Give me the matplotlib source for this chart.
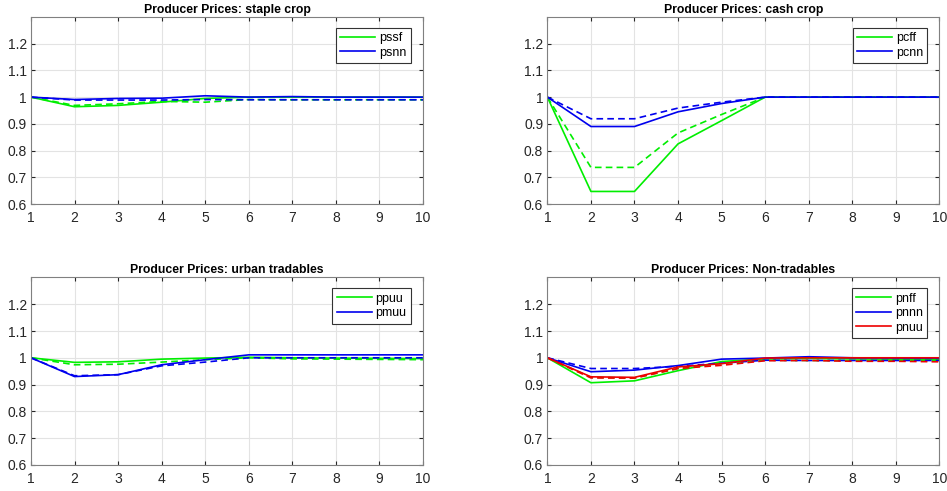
import numpy as np
import matplotlib
matplotlib.use("Agg")
import matplotlib.pyplot as plt

t = np.arange(1, 11)

# staple crop
pssf = [1.0, 0.964, 0.969, 0.981, 0.995, 1.0, 1.0, 1.0, 1.0, 1.0]
pssf_alt = [1.0, 0.969, 0.975, 0.984, 0.981, 0.991, 0.99, 0.99, 0.99, 0.99]
psnn = [1.0, 0.991, 0.995, 0.996, 1.005, 1.0, 1.002, 1.0, 1.0, 1.0]
psnn_alt = [1.0, 0.989, 0.989, 0.989, 0.991, 0.99, 0.99, 0.99, 0.99, 0.99]

# cash crop
pcff = [1.0, 0.647, 0.647, 0.825, 0.912, 1.0, 1.0, 1.0, 1.0, 1.0]
pcff_alt = [1.0, 0.737, 0.737, 0.866, 0.935, 1.0, 1.0, 1.0, 1.0, 1.0]
pcnn = [1.0, 0.89, 0.89, 0.945, 0.976, 1.0, 1.0, 1.0, 1.0, 1.0]
pcnn_alt = [1.0, 0.919, 0.919, 0.959, 0.981, 1.0, 1.0, 1.0, 1.0, 1.0]

# urban tradables
ppuu = [1.0, 0.983, 0.985, 0.995, 0.999, 1.002, 1.0, 0.999, 0.998, 0.997]
ppuu_alt = [1.0, 0.974, 0.976, 0.984, 0.993, 1.0, 0.996, 0.995, 0.994, 0.993]
pmuu = [1.0, 0.930, 0.937, 0.974, 0.993, 1.011, 1.011, 1.011, 1.011, 1.011]
pmuu_alt = [1.0, 0.933, 0.937, 0.970, 0.984, 1.0, 1.0, 1.0, 1.0, 1.0]

# non-tradables
pnff = [1.0, 0.907, 0.914, 0.952, 0.986, 0.996, 0.998, 0.996, 0.995, 0.995]
pnff_alt = [1.0, 0.927, 0.925, 0.96, 0.979, 0.991, 0.99, 0.99, 0.99, 0.99]
pnnn = [1.0, 0.948, 0.954, 0.971, 0.995, 0.999, 1.004, 1.0, 0.999, 0.999]
pnnn_alt = [1.0, 0.96, 0.96, 0.968, 0.98, 0.991, 0.99, 0.99, 0.99, 0.99]
pnuu = [1.0, 0.929, 0.927, 0.966, 0.978, 0.999, 1.0, 1.0, 1.0, 1.0]
pnuu_alt = [1.0, 0.925, 0.924, 0.96, 0.972, 0.989, 0.99, 0.987, 0.987, 0.985]

titles = ['Producer Prices: staple crop', 'Producer Prices: cash crop',
          'Producer Prices: urban tradables', 'Producer Prices: Non-tradables']
panels = [
    [('pssf', pssf, pssf_alt, '#00ee00'), ('psnn', psnn, psnn_alt, '#0000ee')],
    [('pcff', pcff, pcff_alt, '#00ee00'), ('pcnn', pcnn, pcnn_alt, '#0000ee')],
    [('ppuu', ppuu, ppuu_alt, '#00ee00'), ('pmuu', pmuu, pmuu_alt, '#0000ee')],
    [('pnff', pnff, pnff_alt, '#00ee00'), ('pnnn', pnnn, pnnn_alt, '#0000ee'),
     ('pnuu', pnuu, pnuu_alt, '#ee0000')],
]

plt.rcParams['font.family'] = ['Liberation Sans', 'DejaVu Sans']

fig = plt.figure(figsize=(9.47, 4.91), dpi=100)
rects = [
    [0.0327, 0.5845, 0.414, 0.381],
    [0.578, 0.5845, 0.414, 0.381],
    [0.0327, 0.053, 0.414, 0.382],
    [0.578, 0.053, 0.414, 0.382],
]

for rect, title, series in zip(rects, titles, panels):
    ax = fig.add_axes(rect)
    handles = []
    for name, solid, dashed, col in series:
        h, = ax.plot(t, solid, color=col, lw=1.2, label=name)
        ax.plot(t, dashed, color=col, lw=1.2, ls=(0, (4, 2.5)))
        handles.append(h)
    ax.set_xlim(1, 10)
    ax.set_ylim(0.6, 1.3)
    ax.set_xticks(t)
    ax.set_yticks([0.6, 0.7, 0.8, 0.9, 1.0, 1.1, 1.2])
    ax.set_yticklabels(['0.6', '0.7', '0.8', '0.9', '1', '1.1', '1.2'])
    ax.grid(True, color='#e3e3e3', lw=0.8)
    ax.set_axisbelow(True)
    ax.tick_params(direction='in', length=3, labelsize=10, colors='#262626',
                   top=True, right=True)
    ax.tick_params(axis='x', pad=5)
    ax.tick_params(axis='y', pad=3)
    for sp in ax.spines.values():
        sp.set_color('#808080')
        sp.set_linewidth(0.8)
    ax.set_title(title, fontsize=8.8, fontweight='bold', pad=3)
    leg = ax.legend(handles=handles, loc='upper right', fontsize=9,
                    fancybox=False, framealpha=1, edgecolor='#333333',
                    handlelength=2.8, borderpad=0.35, labelspacing=0.2,
                    handletextpad=0.3, bbox_to_anchor=(0.985, 0.975))
    leg.get_frame().set_linewidth(0.8)

fig.savefig('out.png', dpi=100)
